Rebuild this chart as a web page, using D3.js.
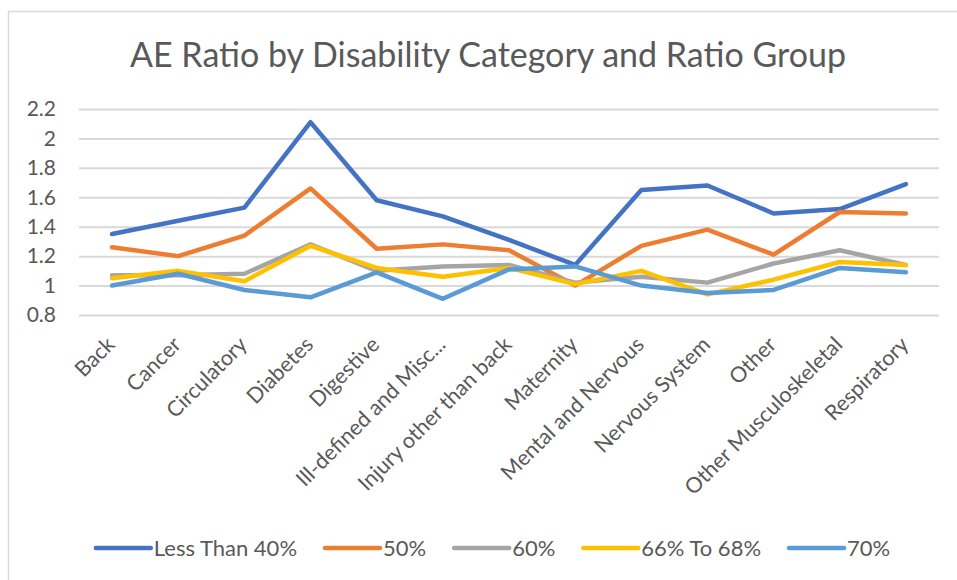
<!DOCTYPE html>
<html>
<head>
<meta charset="utf-8">
<script src="https://cdn.jsdelivr.net/npm/d3@7/dist/d3.min.js"></script>
<style>
  body { margin: 0; background: #fff; }
  svg { display: block; font-family: Lato, "Open Sans", sans-serif; }
</style>
</head>
<body>
<svg id="chart" width="957" height="580"></svg>
<script>
// Disability categories along the x axis
const categories = [
  "Back", "Cancer", "Circulatory", "Diabetes", "Digestive",
  "Ill-defined and Misc...", "Injury other than back", "Maternity",
  "Mental and Nervous", "Nervous System", "Other", "Other Musculoskeletal",
  "Respiratory"
];

// Ratio groups (series)
const seriesNames = ["Less Than 40%", "50%", "60%", "66% To 68%", "70%"];

// AE ratio per category, one array per ratio group
const lessThan40 = [1.35, 1.44, 1.53, 2.11, 1.58, 1.47, 1.31, 1.14, 1.65, 1.68, 1.49, 1.52, 1.69];
const pct50      = [1.26, 1.20, 1.34, 1.66, 1.25, 1.28, 1.24, 1.00, 1.27, 1.38, 1.21, 1.50, 1.49];
const pct60      = [1.07, 1.07, 1.08, 1.28, 1.10, 1.13, 1.14, 1.02, 1.06, 1.02, 1.15, 1.24, 1.14];
const pct66to68  = [1.05, 1.10, 1.03, 1.27, 1.12, 1.06, 1.12, 1.01, 1.10, 0.94, 1.04, 1.16, 1.14];
const pct70      = [1.00, 1.08, 0.97, 0.92, 1.09, 0.91, 1.11, 1.13, 1.00, 0.95, 0.97, 1.12, 1.09];

// Value axis ticks
const yTicks = [0.8, 1, 1.2, 1.4, 1.6, 1.8, 2, 2.2];
const yTickLabels = ["0.8", "1", "1.2", "1.4", "1.6", "1.8", "2", "2.2"];

const seriesValues = [lessThan40, pct50, pct60, pct66to68, pct70];
const colors = ["#4472C4", "#ED7D31", "#A5A5A5", "#FFC000", "#5B9BD5"];
const textColor = "#595959";
const gridColor = "#D9D9D9";

const svg = d3.select("#chart");

// Chart frame
svg.append("rect")
  .attr("x", 8.5).attr("y", 11.5)
  .attr("width", 1000).attr("height", 1000)
  .attr("fill", "#fff")
  .attr("stroke", gridColor).attr("stroke-width", 1.5);

const plot = { left: 79, right: 939, top: 109, bottom: 315 };

const x = d3.scaleBand().domain(categories).range([plot.left, plot.right]).padding(0);
const y = d3.scaleLinear().domain([0.8, 2.2]).range([plot.bottom, plot.top]);
const cx = d => x(d) + x.bandwidth() / 2;

// Title
svg.append("text")
  .attr("x", 488).attr("y", 67)
  .attr("text-anchor", "middle")
  .attr("fill", textColor)
  .attr("font-size", 34)
  .text("AE Ratio by Disability Category and Ratio Group");

// Horizontal gridlines + value labels
const yAxis = svg.append("g")
  .attr("transform", `translate(${plot.left},0)`)
  .call(d3.axisLeft(y)
    .tickValues(yTicks)
    .tickSize(-(plot.right - plot.left))
    .tickPadding(23)
    .tickFormat((d, i) => yTickLabels[i]));
yAxis.select(".domain").remove();
yAxis.selectAll(".tick line").attr("stroke", gridColor).attr("stroke-width", 2);
yAxis.selectAll(".tick text")
  .attr("fill", textColor)
  .attr("font-size", 21)
  .attr("font-family", "Lato, 'Open Sans', sans-serif");

// Category labels, rotated
const xAxis = svg.append("g")
  .attr("transform", `translate(0,${plot.bottom})`)
  .call(d3.axisBottom(x).tickSize(0).tickPadding(0));
xAxis.select(".domain").remove();
xAxis.selectAll(".tick text")
  .attr("fill", textColor)
  .attr("font-size", 21.5)
  .attr("font-family", "Lato, 'Open Sans', sans-serif")
  .attr("text-anchor", "end")
  .attr("dy", 0)
  .attr("y", 0)
  .attr("transform", "translate(4,31) rotate(-45)");

// Series lines
const line = d3.line()
  .x((d, i) => cx(categories[i]))
  .y(d => y(d));

svg.append("g")
  .selectAll("path")
  .data(seriesValues)
  .join("path")
  .attr("d", line)
  .attr("fill", "none")
  .attr("stroke", (d, i) => colors[i])
  .attr("stroke-width", 4.5)
  .attr("stroke-linejoin", "round")
  .attr("stroke-linecap", "round");

// Legend
const legend = svg.append("g");
const legendY = 548;
const sampleLen = 55;
const itemGap = 28;
const items = legend.selectAll("g")
  .data(seriesNames)
  .join("g");
items.append("line")
  .attr("x1", 0).attr("x2", sampleLen)
  .attr("y1", 0).attr("y2", 0)
  .attr("stroke", (d, i) => colors[i])
  .attr("stroke-width", 4.5)
  .attr("stroke-linecap", "round");
items.append("text")
  .attr("x", sampleLen + 3)
  .attr("y", 7.5)
  .attr("fill", textColor)
  .attr("font-size", 22)
  .text(d => d);

let widths = [];
items.each(function () {
  const t = d3.select(this).select("text").node();
  widths.push(sampleLen + 3 + t.getComputedTextLength());
});
const total = d3.sum(widths) + itemGap * (widths.length - 1);
let cursor = 493 - total / 2;
items.attr("transform", (d, i) => {
  const tx = cursor;
  cursor += widths[i] + itemGap;
  return `translate(${tx},${legendY})`;
});
</script>
</body>
</html>
